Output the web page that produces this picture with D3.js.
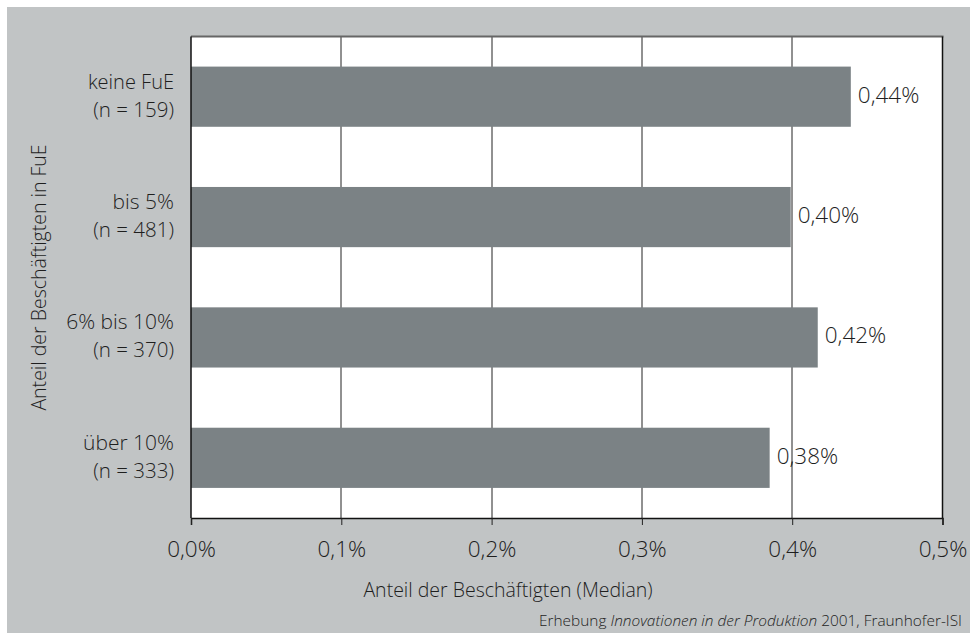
<!DOCTYPE html>
<html><head><meta charset="utf-8">
<script src="https://cdn.jsdelivr.net/npm/d3@7"></script>
<style>
body{margin:0;background:#fff;}
svg{display:block;font-family:"Open Sans",sans-serif;font-weight:300;}
</style></head>
<body>
<svg id="c" width="970" height="633"></svg>
<script>
const categoriesLine1 = ["keine FuE", "bis 5%", "6% bis 10%", "über 10%"];
const categoriesLine2 = ["(n = 159)", "(n = 481)", "(n = 370)", "(n = 333)"];
const values = [0.439, 0.399, 0.417, 0.385];
const valueLabels = ["0,44%", "0,40%", "0,42%", "0,38%"];
const xTicks = [0, 0.1, 0.2, 0.3, 0.4, 0.5];
const xTickLabels = ["0,0%", "0,1%", "0,2%", "0,3%", "0,4%", "0,5%"];

const svg = d3.select("#c");
const txt = "#1e1e1e";
svg.append("rect").attr("x",7).attr("y",7).attr("width",963).attr("height",626).attr("fill","#c1c4c5");

const L=191, R=942.5, T=36.5, B=518;
const x = d3.scaleLinear().domain([0,0.5]).range([L,R]);
const y = d3.scaleBand().domain(d3.range(4)).range([T,B]).paddingInner(0.5).paddingOuter(0.25);

svg.append("rect").attr("x",L).attr("y",T).attr("width",R-L).attr("height",B-T).attr("fill","#fff");

// gridlines
svg.append("g").selectAll("line").data(xTicks.slice(1,-1)).join("line")
  .attr("x1",d=>Math.round(x(d))).attr("x2",d=>Math.round(x(d))).attr("y1",T).attr("y2",B)
  .attr("stroke","#222").attr("stroke-width",1);

// bars
svg.append("g").selectAll("rect").data(values).join("rect")
  .attr("x",x(0)).attr("y",(d,i)=>y(i)).attr("width",d=>x(d)-x(0)).attr("height",y.bandwidth())
  .attr("fill","#7b8285");

// frame
svg.append("line").attr("x1",L).attr("x2",R+1).attr("y1",T).attr("y2",T).attr("stroke","#666").attr("stroke-width",2);
svg.append("line").attr("x1",R).attr("x2",R).attr("y1",T).attr("y2",B).attr("stroke","#111").attr("stroke-width",1.5);
svg.append("line").attr("x1",L).attr("x2",L).attr("y1",T).attr("y2",B).attr("stroke","#111").attr("stroke-width",1.5);

// x axis
const xAxis = d3.axisBottom(x).tickValues(xTicks).tickSize(7).tickFormat((d,i)=>xTickLabels[i]);
const gx = svg.append("g").attr("transform",`translate(0,${B})`).call(xAxis);
gx.select(".domain").attr("stroke","#111").attr("stroke-width",1.5);
gx.selectAll(".tick line").attr("stroke","#222");
gx.selectAll(".tick text").attr("font-size",22.5).attr("fill",txt).attr("dy",0).attr("y",39)
  .attr("font-family","'Open Sans',sans-serif").attr("font-weight",300);

// value labels
svg.append("g").selectAll("text").data(values).join("text")
  .attr("x",d=>x(d)+7).attr("y",(d,i)=>y(i)+y.bandwidth()/2+6)
  .attr("font-size",22.5).attr("fill",txt).text((d,i)=>valueLabels[i]);

// category labels
const cg = svg.append("g").selectAll("text").data(categoriesLine1).join("text")
  .attr("text-anchor","end").attr("font-size",20).attr("fill",txt)
  .attr("y",(d,i)=>y(i)+y.bandwidth()/2);
cg.append("tspan").attr("x",174).attr("dy",-8).attr("font-size",(d,i)=>i===0?20:21).text(d=>d);
cg.append("tspan").attr("x",174).attr("dy",28).attr("font-size",20.5).text((d,i)=>categoriesLine2[i]);

// axis titles
svg.append("text").attr("x",508).attr("y",597).attr("text-anchor","middle")
  .attr("font-size",19.5).attr("fill",txt).text("Anteil der Beschäftigten (Median)");
svg.append("text").attr("transform",`translate(46,277.5) rotate(-90)`).attr("text-anchor","middle")
  .attr("font-size",19.5).attr("fill",txt).text("Anteil der Beschäftigten in FuE");

// source
const src = svg.append("text").attr("x",962).attr("y",626).attr("text-anchor","end")
  .attr("font-size",15.4).attr("fill",txt);
src.append("tspan").text("Erhebung ");
src.append("tspan").attr("font-style","italic").text("Innovationen in der Produktion");
src.append("tspan").text(" 2001, Fraunhofer-ISI");
</script>
</body></html>
